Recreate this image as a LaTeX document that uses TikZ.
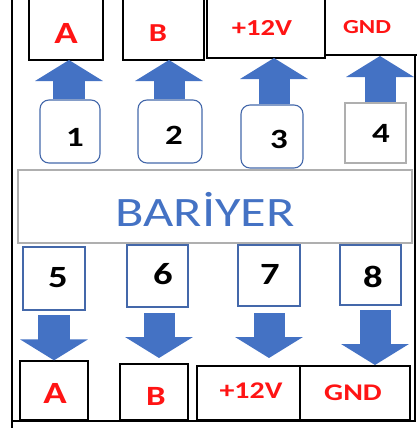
\documentclass[tikz,border=0pt]{standalone}
\usepackage{fontspec}
\setmainfont{Carlito}
\usetikzlibrary{arrows.meta}
\definecolor{arrowblue}{RGB}{68,114,196}
\definecolor{boxblue}{RGB}{68,104,170}
\definecolor{lblred}{RGB}{255,20,20}
\definecolor{bargray}{RGB}{175,175,175}
\tikzset{
  lblbox/.style={draw=black, line width=1.3bp, inner sep=0pt},
  numbox/.style={draw=boxblue, line width=1.1bp, inner sep=0pt},
  rnumbox/.style={numbox, rounded corners=9bp},
  graybox/.style={draw=bargray, line width=1.1bp, inner sep=0pt},
  redtxt/.style={text=lblred, font=\bfseries, inner sep=0pt},
  numtxt/.style={text=black, font=\bfseries, inner sep=0pt},
  bigup/.style={draw=arrowblue, line width=31bp, -{Triangle[width=67bp,length=21bp]}},
  frame/.style={draw=black, line width=1.4bp},
}
\newcommand\fs[2]{\fontsize{#1}{#1}\selectfont\scalebox{1.25}[1]{#2}}
\begin{document}
\begin{tikzpicture}[x=1bp,y=-1bp]
\useasboundingbox (0,0) rectangle (417,428);
% outer frame
\coordinate (fTL) at (12,-3);
\coordinate (fBL) at (12,431);
\coordinate (fBR) at (415,421);
\coordinate (fTR) at (415,55);
\draw[frame] (fTL) -- (fBL);
\draw[frame] (12,421) -- (fBR) -- (fTR);
% top label boxes
\node[lblbox, minimum width=74bp, minimum height=63bp] (tA) at (66,28.5) {};
\node[lblbox, minimum width=81bp, minimum height=63bp] (tB) at (163.5,28.5) {};
\node[lblbox, minimum width=118bp, minimum height=61bp] (tV) at (266,27.5) {};
\node[lblbox, minimum width=95bp, minimum height=58bp] (tG) at (372.5,26) {};
\node[redtxt] (tAt) at (66,33) {\fs{31}{A}};
\node[redtxt] (tBt) at (158,33) {\fs{26}{B}};
\node[redtxt] (tVt) at (262,28) {\fs{23}{+12V}};
\node[redtxt] (tGt) at (367,27) {\fs{20}{GND}};
% top numbered boxes
\node[rnumbox, minimum width=60bp, minimum height=63bp] (n1) at (70,131.5) {};
\node[rnumbox, minimum width=64bp, minimum height=63bp] (n2) at (170,131.5) {};
\node[rnumbox, minimum width=62bp, minimum height=63bp] (n3) at (272,136.5) {};
\node[graybox, minimum width=61bp, minimum height=60bp] (n4) at (375.5,133) {};
\node[numtxt] (n1t) at (75,137) {\fs{28}{1}};
\node[numtxt] (n2t) at (174,135) {\fs{28}{2}};
\node[numtxt] (n3t) at (279,139) {\fs{28}{3}};
\node[numtxt] (n4t) at (381,133) {\fs{28}{4}};
% up arrows
\draw[bigup] (n1.north -| 69,0) -- (69,60);
\draw[bigup] (n2.north -| 169,0) -- (169,60);
\draw[bigup] (n3.north -| 274,0) -- (274,58);
\draw[bigup] (n4.north -| 380,0) -- (380,56);
% barrier
\node[graybox, minimum width=394bp, minimum height=73bp] (bar) at (215,206.5) {};
\node[text=arrowblue, inner sep=0pt] (bart) at (205,209) {\fs{42}{BARİYER}};
% bottom numbered boxes
\node[numbox, minimum width=62bp, minimum height=63bp] (n5) at (54,278.5) {};
\node[numbox, minimum width=61bp, minimum height=62bp] (n6) at (157.5,276) {};
\node[numbox, minimum width=62bp, minimum height=61bp] (n7) at (269,275.5) {};
\node[numbox, minimum width=61bp, minimum height=60bp] (n8) at (370.5,275) {};
\node[numtxt] (n5t) at (58,278) {\fs{31}{5}};
\node[numtxt] (n6t) at (163,274) {\fs{31}{6}};
\node[numtxt] (n7t) at (270,274) {\fs{31}{7}};
\node[numtxt] (n8t) at (373,277) {\fs{31}{8}};
% bottom label boxes
\node[lblbox, minimum width=68bp, minimum height=59bp] (bA) at (54,390.5) {};
\node[lblbox, minimum width=68bp, minimum height=56bp] (bB) at (154,392) {};
\node[lblbox, minimum width=103bp, minimum height=54bp] (bV) at (248.5,393) {};
\node[lblbox, minimum width=110bp, minimum height=54bp] (bG) at (355,393) {};
\node[redtxt] (bAt) at (55,393) {\fs{31}{A}};
\node[redtxt] (bBt) at (156,396) {\fs{28}{B}};
\node[redtxt] (bVt) at (251,391) {\fs{24}{+12V}};
\node[redtxt] (bGt) at (353,393) {\fs{24}{GND}};
% down arrows
\draw[bigup] (54,315) -- (bA.north -| 54,0);
\draw[bigup] (159,313) -- (159,358);
\draw[bigup] (269,313) -- (269,358);
\draw[bigup] (375,310) -- (375,365);
\end{tikzpicture}
\end{document}
